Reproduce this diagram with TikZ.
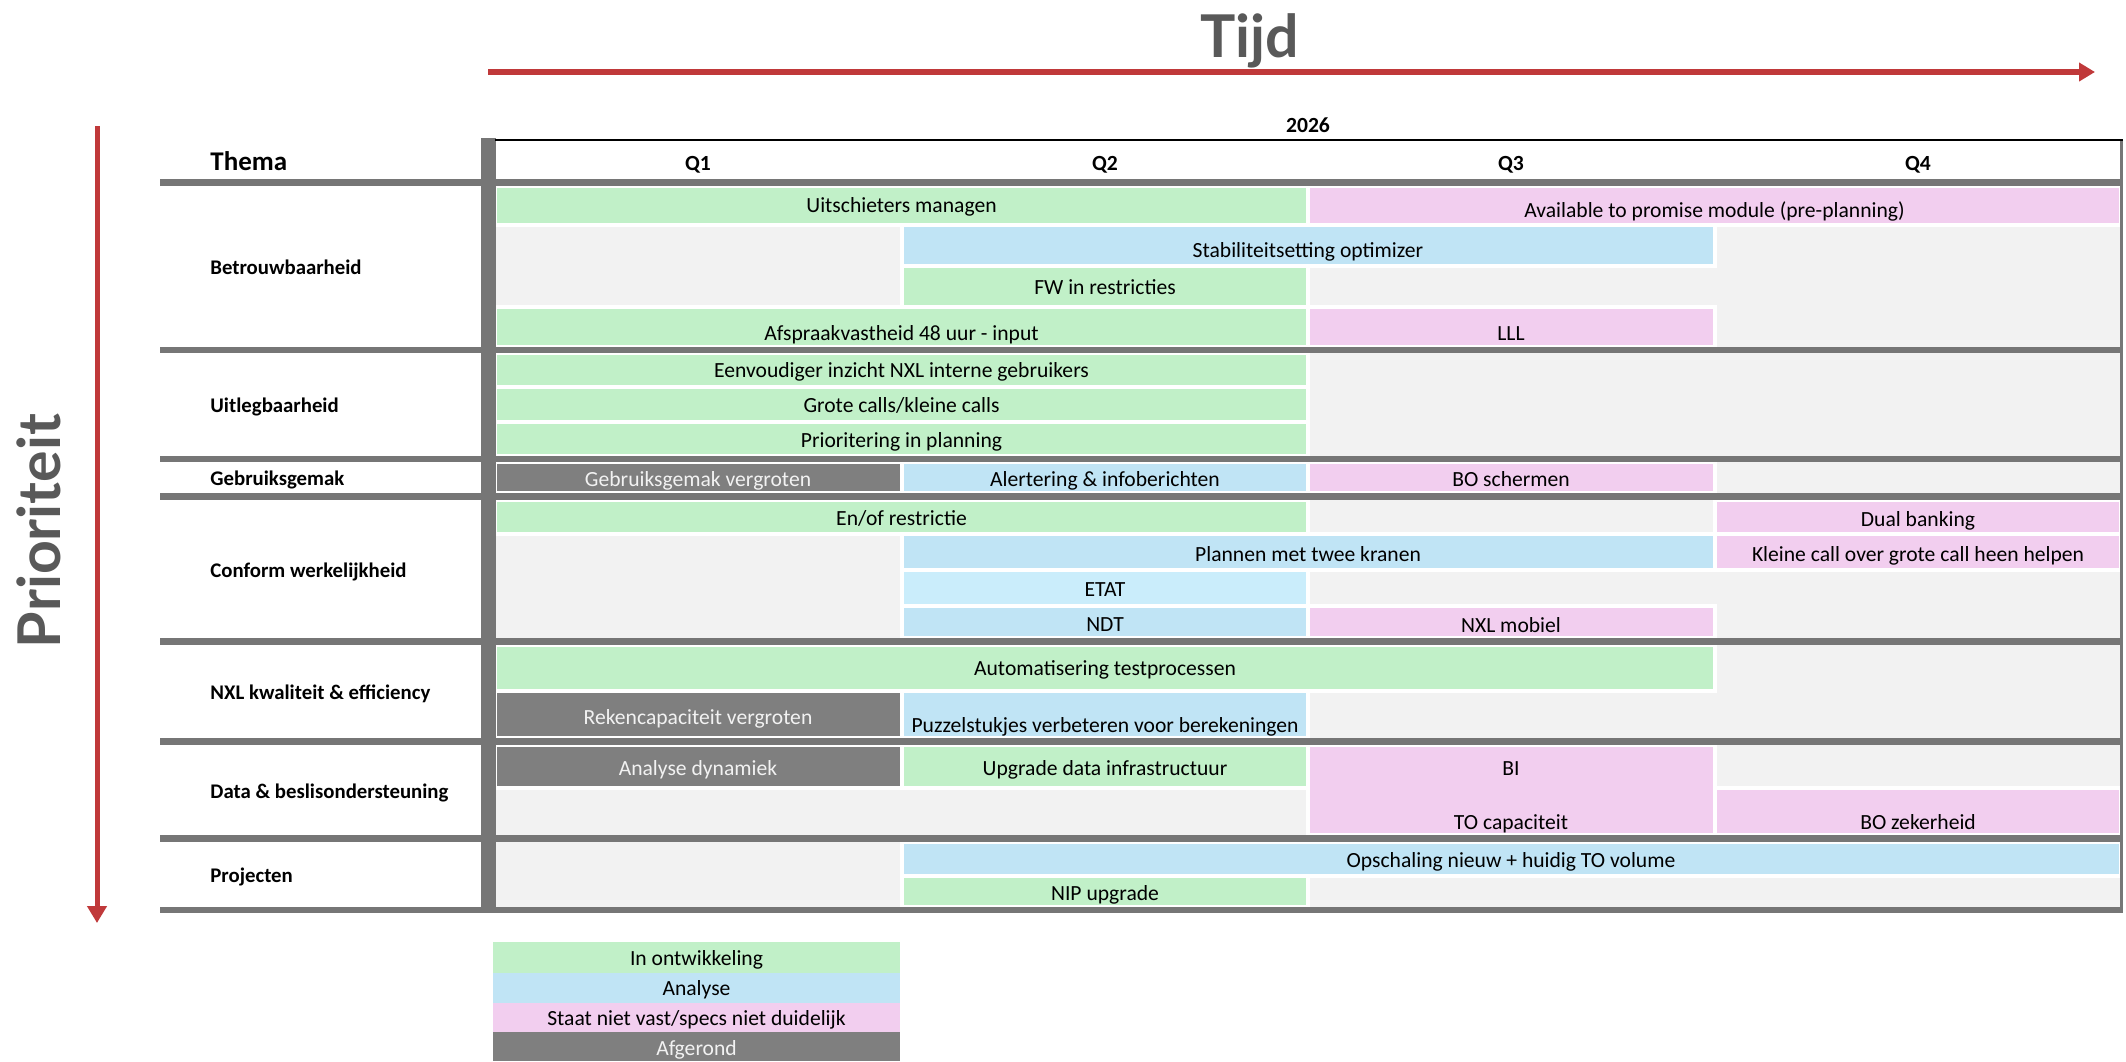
\documentclass[tikz,border=0pt]{standalone}
\usepackage{fontspec}
\setmainfont{Carlito}
\newfontfamily\titlefont{Lato}
\usetikzlibrary{arrows.meta}
\definecolor{cgreen}{RGB}{193,240,200}
\definecolor{cblue}{RGB}{192,228,245}
\definecolor{clblue}{RGB}{202,237,251}
\definecolor{cpink}{RGB}{242,206,239}
\definecolor{cdgray}{RGB}{127,127,127}
\definecolor{cegray}{RGB}{242,242,242}
\definecolor{csep}{RGB}{118,118,118}
\definecolor{cred}{RGB}{192,57,58}
\definecolor{ctitle}{RGB}{89,89,89}
\tikzset{
  cellbox/.style={draw=white, line width=2pt},
  txt/.style={font=\fontsize{10.8}{12}\selectfont, anchor=mid, inner sep=0pt, text=black, yshift=-1.5pt},
  wtxt/.style={txt, text=cegray},
  hdr/.style={font=\fontsize{10.8}{12}\selectfont\bfseries, anchor=mid, inner sep=0pt, yshift=-1.2pt},
  theme/.style={font=\fontsize{10.4}{12}\selectfont\bfseries, anchor=mid west, inner sep=0pt, yshift=-1.2pt},
  bigtitle/.style={font=\titlefont\bfseries\fontsize{29.5}{32}\selectfont, text=ctitle, inner sep=0pt, anchor=base},
}
\begin{document}
\begin{tikzpicture}[x=0.5pt,y=-0.5pt]
\useasboundingbox (0,0) rectangle (2126,1061);
\fill[white] (0,0) rectangle (2126,1061);

% titles and arrows
\node[bigtitle] (tijd) at (1250,57) {Tijd};
\node[bigtitle, rotate=90] (prio) at (60,531) {Prioriteit};
\coordinate (hs) at (488,72);
\coordinate (he) at (2095,72);
\coordinate (vs) at (97,126);
\coordinate (ve) at (97,923);
\draw[cred, line width=3pt, -{Triangle[length=8pt,width=9pt]}] (hs) -- (he);
\draw[cred, line width=2.5pt, -{Triangle[length=8.5pt,width=9.5pt]}] (vs) -- (ve);

% body background
\fill[cegray] (495,186) rectangle (2121,907);

% Betrouwbaarheid
\path[cellbox, fill=cgreen] (495,186) rectangle (1308,225);
\node[txt] (c11) at (901.5,205) {Uitschieters managen};
\path[cellbox, fill=cpink] (1308,186) rectangle (2121,225);
\node[txt] (c12) at (1714.5,210) {Available to promise module (pre-planning)};
\path[cellbox, fill=cblue] (901.5,225) rectangle (1714.5,266);
\node[txt] (c13) at (1308,250) {Stabiliteitsetting optimizer};
\path[cellbox, fill=cgreen] (901.5,266) rectangle (1308,307);
\node[txt] (c14) at (1105,287) {FW in restricties};
\path[cellbox, fill=cgreen] (495,307) rectangle (1308,347);
\node[txt] (c15) at (901.5,333) {Afspraakvastheid 48 uur - input};
\path[cellbox, fill=cpink] (1308,307) rectangle (1714.5,347);
\node[txt] (c16) at (1511,333) {LLL};

% Uitlegbaarheid
\path[cellbox, fill=cgreen] (495,353) rectangle (1308,386.5);
\node[txt] (c21) at (901.5,370) {Eenvoudiger inzicht NXL interne gebruikers};
\path[cellbox, fill=cgreen] (495,386.5) rectangle (1308,422);
\node[txt] (c22) at (901.5,405) {Grote calls/kleine calls};
\path[cellbox, fill=cgreen] (495,422) rectangle (1308,456);
\node[txt] (c23) at (901.5,440) {Prioritering in planning};

% Gebruiksgemak
\path[cellbox, fill=cdgray] (495,462) rectangle (901.5,493);
\node[wtxt] (c31) at (698,479) {Gebruiksgemak vergroten};
\path[cellbox, fill=cblue] (901.5,462) rectangle (1308,493);
\node[txt] (c32) at (1105,479) {Alertering \& infoberichten};
\path[cellbox, fill=cpink] (1308,462) rectangle (1714.5,493);
\node[txt] (c33) at (1511,479) {BO schermen};

% Conform werkelijkheid
\path[cellbox, fill=cgreen] (495,500) rectangle (1308,534);
\node[txt] (c41) at (901.5,518) {En/of restrictie};
\path[cellbox, fill=cpink] (1714.5,500) rectangle (2121,534);
\node[txt] (c42) at (1918,519) {Dual banking};
\path[cellbox, fill=cblue] (901.5,534) rectangle (1714.5,569.5);
\node[txt] (c43) at (1308,554) {Plannen met twee kranen};
\path[cellbox, fill=cpink] (1714.5,534) rectangle (2121,569.5);
\node[txt] (c44) at (1918,554) {Kleine call over grote call heen helpen};
\path[cellbox, fill=clblue] (901.5,569.5) rectangle (1308,605.5);
\node[txt] (c45) at (1105,589) {ETAT};
\path[cellbox, fill=cblue] (901.5,605.5) rectangle (1308,638);
\node[txt] (c46) at (1105,624) {NDT};
\path[cellbox, fill=cpink] (1308,605.5) rectangle (1714.5,638);
\node[txt] (c47) at (1511,625) {NXL mobiel};

% NXL kwaliteit
\path[cellbox, fill=cgreen] (495,645) rectangle (1714.5,691);
\node[txt] (c51) at (1105,668) {Automatisering testprocessen};
\path[cellbox, fill=cdgray] (495,691) rectangle (901.5,738);
\node[wtxt] (c52) at (698,717) {Rekencapaciteit vergroten};
\path[cellbox, fill=cblue] (901.5,691) rectangle (1308,738);
\node[txt] (c53) at (1105,725) {Puzzelstukjes verbeteren voor berekeningen};

% Data
\path[cellbox, fill=cdgray] (495,745) rectangle (901.5,788);
\node[wtxt] (c61) at (698,768) {Analyse dynamiek};
\path[cellbox, fill=cgreen] (901.5,745) rectangle (1308,788);
\node[txt] (c62) at (1105,768) {Upgrade data infrastructuur};
\path[cellbox, fill=cpink] (1308,745) rectangle (1714.5,835);
\node[txt] (c63) at (1511,768) {BI};
\node[txt] (c64) at (1511,822) {TO capaciteit};
\path[cellbox, fill=cpink] (1714.5,788) rectangle (2121,835);
\node[txt] (c65) at (1918,822) {BO zekerheid};

% Projecten
\path[cellbox, fill=cblue] (901.5,842) rectangle (2121,875.5);
\node[txt] (c71) at (1511,860) {Opschaling nieuw + huidig TO volume};
\path[cellbox, fill=cgreen] (901.5,875.5) rectangle (1308,907);
\node[txt] (c72) at (1105,893) {NIP upgrade};

% separators
\foreach \a/\b in {179/186,347/353,456/462,493/500,638/645,738/745,835/842,907/913}
  \fill[csep] (160,\a) rectangle (2123,\b);
\fill[csep] (481,138) rectangle (496,913);
\fill[csep] (2119.5,140) rectangle (2123,913);
\draw[black, line width=1pt] (495,140) -- (2123,140);

% header
\node[hdr] (year) at (1308,125) {2026};
\node[theme, font=\fontsize{13.5}{15}\selectfont\bfseries] (thema) at (210,163) {Thema};
\node[hdr] (q1) at (698,163) {Q1};
\node[hdr] (q2) at (1105,163) {Q2};
\node[hdr] (q3) at (1511,163) {Q3};
\node[hdr] (q4) at (1918,163) {Q4};

% themes
\node[theme] (t1) at (210,267) {Betrouwbaarheid};
\node[theme] (t2) at (210,405) {Uitlegbaarheid};
\node[theme] (t3) at (210,478) {Gebruiksgemak};
\node[theme] (t4) at (210,570) {Conform werkelijkheid};
\node[theme] (t5) at (210,692) {NXL kwaliteit \& efficiency};
\node[theme] (t6) at (210,791) {Data \& beslisondersteuning};
\node[theme] (t7) at (210,875) {Projecten};

% legend
\fill[cgreen] (493,942) rectangle (900,973);
\node[txt] (l1) at (696.5,958) {In ontwikkeling};
\fill[cblue] (493,973) rectangle (900,1003);
\node[txt] (l2) at (696.5,988) {Analyse};
\fill[cpink] (493,1003) rectangle (900,1032);
\node[txt] (l3) at (696.5,1018) {Staat niet vast/specs niet duidelijk};
\fill[cdgray] (493,1032) rectangle (900,1061);
\node[wtxt] (l4) at (696.5,1048) {Afgerond};
\end{tikzpicture}
\end{document}
